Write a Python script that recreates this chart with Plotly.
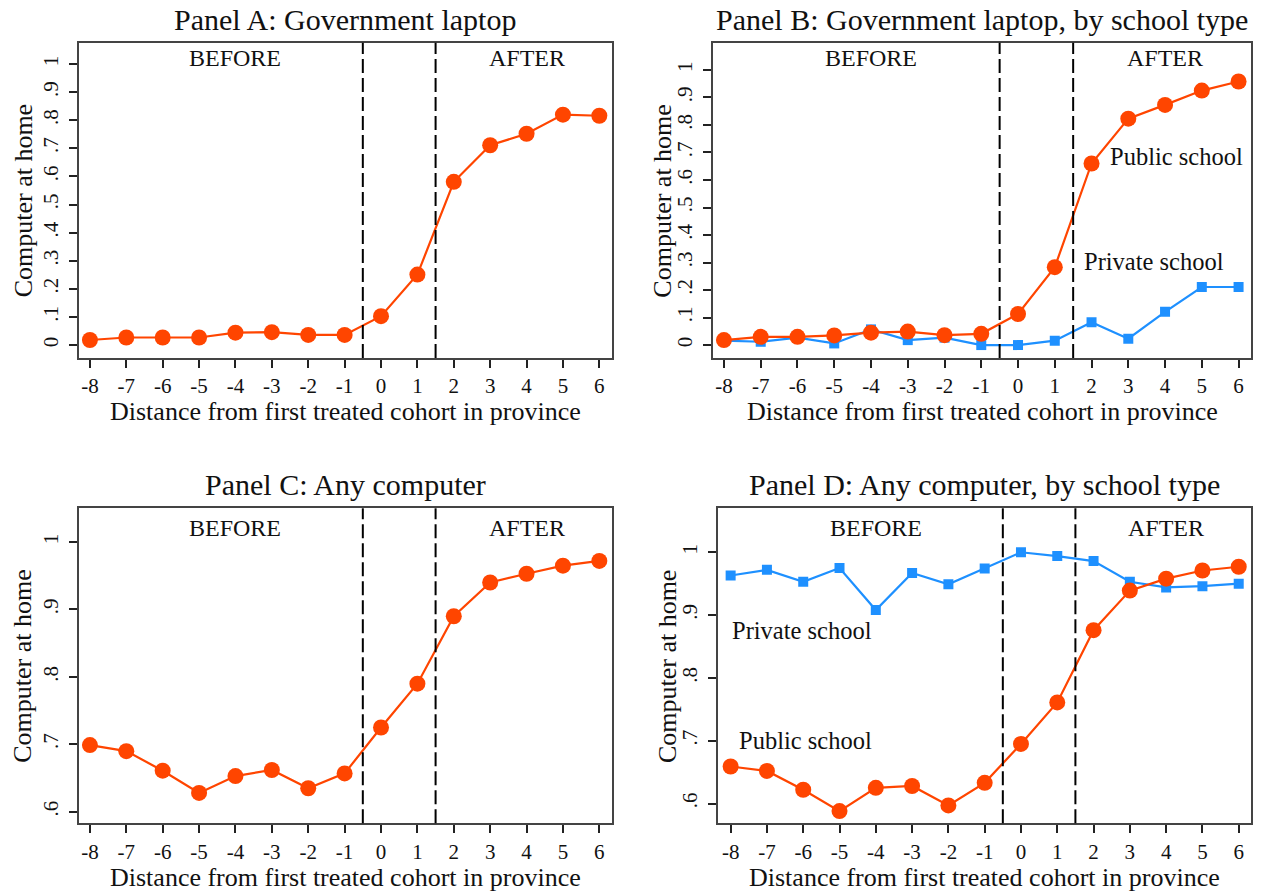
import plotly.graph_objects as go

W, H = 1266, 893

cohort = [-8, -7, -6, -5, -4, -3, -2, -1, 0, 1, 2, 3, 4, 5, 6]
x_ticktext = ["-8", "-7", "-6", "-5", "-4", "-3", "-2", "-1", "0", "1", "2", "3", "4", "5", "6"]

panel_a = [0.018, 0.027, 0.027, 0.027, 0.044, 0.046, 0.036, 0.036, 0.103, 0.251, 0.581, 0.711, 0.752, 0.820, 0.816]
panel_b_public = [0.018, 0.030, 0.030, 0.035, 0.045, 0.049, 0.036, 0.041, 0.113, 0.283, 0.660, 0.823, 0.873, 0.925, 0.958]
panel_b_private = [0.016, 0.012, 0.027, 0.006, 0.057, 0.018, 0.027, 0.000, 0.000, 0.016, 0.083, 0.023, 0.121, 0.211, 0.211]
panel_c = [0.699, 0.690, 0.661, 0.628, 0.653, 0.662, 0.635, 0.657, 0.725, 0.790, 0.890, 0.940, 0.953, 0.965, 0.972]
panel_d_public = [0.659, 0.652, 0.622, 0.588, 0.625, 0.628, 0.597, 0.633, 0.695, 0.761, 0.876, 0.939, 0.958, 0.971, 0.977]
panel_d_private = [0.963, 0.972, 0.953, 0.975, 0.908, 0.967, 0.949, 0.974, 1.000, 0.994, 0.986, 0.953, 0.944, 0.946, 0.950]

yt_top = [0, 0.1, 0.2, 0.3, 0.4, 0.5, 0.6, 0.7, 0.8, 0.9, 1.0]
yt_top_text = ["0", ".1", ".2", ".3", ".4", ".5", ".6", ".7", ".8", ".9", "1"]
yt_bot = [0.6, 0.7, 0.8, 0.9, 1.0]
yt_bot_text = [".6", ".7", ".8", ".9", "1"]

titles = ["Panel A: Government laptop", "Panel B: Government laptop, by school type",
          "Panel C: Any computer", "Panel D: Any computer, by school type"]
xtitle = "Distance from first treated cohort in province"
ytitle = "Computer at home"

ORANGE = "#FF4500"
BLUE = "#1E90FF"
FONT = "Liberation Serif"
TXT = "#111"

def px_x(p):
    return p / W

def px_y(p):
    return 1 - p / H

# plot boxes in pixels: (left, right, top, bottom)
boxes = {
    1: (79, 611.7, 42.7, 358),
    2: (713.3, 1250.7, 42.7, 358),
    3: (79, 611.7, 508.3, 823.3),
    4: (718.3, 1250.7, 508.3, 823.3),
}
xranges = {1: [-8.30, 6.34], 2: [-8.29, 6.33], 3: [-8.30, 6.34], 4: [-8.34, 6.33]}
yranges = {1: [-0.046, 1.076], 2: [-0.047, 1.099], 3: [0.583, 1.05], 4: [0.5686, 1.07]}

fig = go.Figure()

def add_line(i, y, color, symbol, size, width):
    sfx = "" if i == 1 else str(i)
    fig.add_trace(go.Scatter(
        x=cohort, y=y, mode="lines+markers", xaxis="x" + sfx, yaxis="y" + sfx,
        line=dict(color=color, width=width),
        marker=dict(color=color, symbol=symbol, size=size, line=dict(width=0)),
        showlegend=False, hoverinfo="skip"))

add_line(1, panel_a, ORANGE, "circle", 16, 2.2)
add_line(2, panel_b_private, BLUE, "square", 10, 2.2)
add_line(2, panel_b_public, ORANGE, "circle", 16, 2.2)
add_line(3, panel_c, ORANGE, "circle", 16, 2.2)
add_line(4, panel_d_private, BLUE, "square", 10, 2.2)
add_line(4, panel_d_public, ORANGE, "circle", 16, 2.2)

layout = dict(width=W, height=H, autosize=False,
              margin=dict(l=0, r=0, t=0, b=0),
              paper_bgcolor="white", plot_bgcolor="white",
              font=dict(family=FONT, color=TXT))

for i in range(1, 5):
    l, r, t, b = boxes[i]
    sfx = "" if i == 1 else str(i)
    top = i <= 2
    layout["xaxis" + sfx] = dict(
        domain=[px_x(l), px_x(r)], range=xranges[i], anchor="y" + sfx,
        tickmode="array", tickvals=cohort, ticktext=x_ticktext,
        ticks="outside", ticklen=8, tickwidth=1.5, tickcolor="#222",
        showline=True, mirror=True, linecolor="#444", linewidth=2,
        showgrid=False, zeroline=False,
        tickfont=dict(family=FONT, size=21, color=TXT))
    layout["yaxis" + sfx] = dict(
        domain=[px_y(b), px_y(t)], range=yranges[i], anchor="x" + sfx,
        tickmode="array",
        tickvals=yt_top if top else yt_bot,
        ticktext=yt_top_text if top else yt_bot_text,
        tickangle=-90, ticklabelstandoff=3,
        ticks="outside", ticklen=8, tickwidth=1.5, tickcolor="#222",
        showline=True, mirror=True, linecolor="#444", linewidth=2,
        showgrid=False, zeroline=False,
        tickfont=dict(family=FONT, size=21, color=TXT))

fig.update_layout(**layout)

shapes = []
annotations = []
for i in range(1, 5):
    l, r, t, b = boxes[i]
    sfx = "" if i == 1 else str(i)
    for xv in (-0.5, 1.5):
        shapes.append(dict(type="line", xref="x" + sfx, yref="y" + sfx + " domain",
                           x0=xv, x1=xv, y0=0, y1=1,
                           line=dict(color="black", width=2, dash="14px,5px")))
    # panel title
    ty = 19.5 if i <= 2 else 484
    annotations.append(dict(text=titles[i - 1], xref="paper", yref="paper",
                            x=px_x((l + r) / 2), y=px_y(ty), xanchor="center", yanchor="middle",
                            showarrow=False, font=dict(family=FONT, size=30, color=TXT)))
    # x title
    xy = 412 if i <= 2 else 877
    annotations.append(dict(text=xtitle, xref="paper", yref="paper",
                            x=px_x((l + r) / 2), y=px_y(xy), xanchor="center", yanchor="middle",
                            showarrow=False, font=dict(family=FONT, size=26, color=TXT)))
    # y title
    annotations.append(dict(text=ytitle, xref="paper", yref="paper",
                            x=px_x(l - 56 if i in (1, 3) else l - 51), y=px_y((t + b) / 2),
                            xanchor="center", yanchor="middle", textangle=-90,
                            showarrow=False, font=dict(family=FONT, size=26, color=TXT)))

before_y = {1: 1.021, 2: 1.045, 3: 1.0207, 4: 1.0387}
for i in range(1, 5):
    sfx = "" if i == 1 else str(i)
    for txt, xv in (("BEFORE", -4), ("AFTER", 4)):
        annotations.append(dict(text=txt, xref="x" + sfx, yref="y" + sfx, x=xv, y=before_y[i],
                                xanchor="center", yanchor="middle", showarrow=False,
                                font=dict(family=FONT, size=24, color=TXT)))

# series labels
series_labels = [
    (2, "Public school", 2.45, 0.684),
    (2, "Private school", 1.75, 0.305),
    (4, "Private school", -8.02, 0.875),
    (4, "Public school", -7.83, 0.700),
]
for i, txt, xv, yv in series_labels:
    sfx = "" if i == 1 else str(i)
    annotations.append(dict(text=txt, xref="x" + sfx, yref="y" + sfx, x=xv, y=yv,
                            xanchor="left", yanchor="middle", showarrow=False,
                            font=dict(family=FONT, size=24.5, color=TXT)))

fig.update_layout(shapes=shapes, annotations=annotations)
fig.write_html("out.html",
               config={"displayModeBar": False},
               post_script="document.body.style.margin='0px';document.body.style.overflow='hidden';")
